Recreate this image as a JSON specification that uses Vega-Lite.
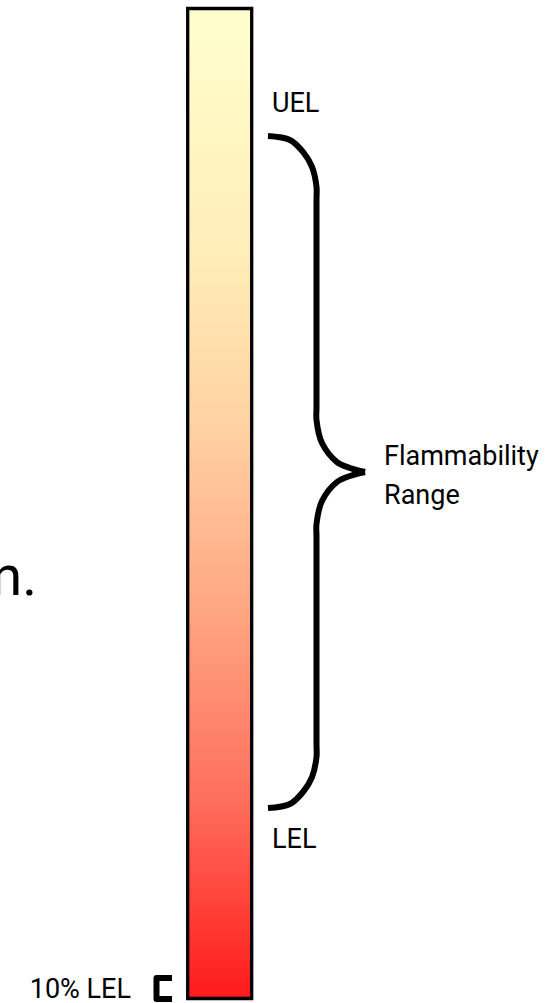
{
  "$schema": "https://vega.github.io/schema/vega-lite/v6.json",
  "width": 553,
  "height": 990,
  "autosize": {"type": "none"},
  "padding": {"left": 0, "right": 0, "top": 8.5, "bottom": 4.5},
  "background": "white",
  "config": {"view": {"stroke": null}, "font": "Roboto"},
  "datasets": {
    "bar": [{"x0": 187.7, "x1": 251.7, "y0": 0, "y1": 100}],
    "brace": [
      {"part": "upper", "i": 0, "x": 268, "y": 87.12},
      {"part": "upper", "i": 1, "x": 290, "y": 86.72},
      {"part": "upper", "i": 2, "x": 303, "y": 85.51},
      {"part": "upper", "i": 3, "x": 312, "y": 84.0},
      {"part": "upper", "i": 4, "x": 316.5, "y": 81.97},
      {"part": "upper", "i": 5, "x": 316.5, "y": 80.66},
      {"part": "upper", "i": 6, "x": 316.5, "y": 59.75},
      {"part": "upper", "i": 7, "x": 316.5, "y": 58.43},
      {"part": "upper", "i": 8, "x": 322, "y": 56.11},
      {"part": "upper", "i": 9, "x": 337, "y": 54.19},
      {"part": "upper", "i": 10, "x": 350, "y": 53.59},
      {"part": "upper", "i": 11, "x": 365, "y": 53.18},
      {"part": "lower", "i": 0, "x": 365, "y": 53.18},
      {"part": "lower", "i": 1, "x": 350, "y": 52.78},
      {"part": "lower", "i": 2, "x": 337, "y": 52.17},
      {"part": "lower", "i": 3, "x": 322, "y": 50.25},
      {"part": "lower", "i": 4, "x": 316.5, "y": 47.93},
      {"part": "lower", "i": 5, "x": 316.5, "y": 46.62},
      {"part": "lower", "i": 6, "x": 316.5, "y": 25.71},
      {"part": "lower", "i": 7, "x": 316.5, "y": 24.39},
      {"part": "lower", "i": 8, "x": 312, "y": 22.37},
      {"part": "lower", "i": 9, "x": 303, "y": 20.86},
      {"part": "lower", "i": 10, "x": 290, "y": 19.65},
      {"part": "lower", "i": 11, "x": 268, "y": 19.24}
    ],
    "bracket": [
      {"i": 0, "x": 172, "y": 2.07},
      {"i": 1, "x": 156.5, "y": 2.07},
      {"i": 2, "x": 156.5, "y": -0.05},
      {"i": 3, "x": 172, "y": -0.05}
    ],
    "labels": [
      {"text": "UEL", "x": 272, "y": 89.55},
      {"text": "LEL", "x": 272, "y": 15.2},
      {"text": "Flammability", "x": 384, "y": 53.89},
      {"text": "Range", "x": 384, "y": 49.95}
    ],
    "leftLabels": [
      {"text": "10% LEL", "x": 131, "y": 0.05}
    ],
    "cutText": [
      {"text": "rn.", "x": 37, "y": 40.76}
    ]
  },
  "encoding": {
    "x": {"type": "quantitative", "scale": {"domain": [0, 553], "nice": false, "zero": false}, "axis": null},
    "y": {"type": "quantitative", "scale": {"domain": [0, 100], "nice": false, "zero": false}, "axis": null}
  },
  "layer": [
    {
      "data": {"name": "bar"},
      "mark": {
        "type": "rect",
        "fill": {
          "gradient": "linear",
          "x1": 0, "y1": 0, "x2": 0, "y2": 1,
          "stops": [
            {"offset": 0, "color": "#ffffcc"},
            {"offset": 0.25, "color": "#ffedb8"},
            {"offset": 0.42, "color": "#ffd2a2"},
            {"offset": 0.6, "color": "#ffa883"},
            {"offset": 0.8, "color": "#ff6e5c"},
            {"offset": 1, "color": "#ff1a1a"}
          ]
        },
        "stroke": "black",
        "strokeWidth": 3.3
      },
      "encoding": {
        "x": {"field": "x0", "type": "quantitative"},
        "x2": {"field": "x1"},
        "y": {"field": "y0", "type": "quantitative"},
        "y2": {"field": "y1"}
      }
    },
    {
      "data": {"name": "brace"},
      "mark": {"type": "line", "interpolate": "catmull-rom", "color": "black", "strokeWidth": 6, "strokeCap": "butt"},
      "encoding": {
        "x": {"field": "x", "type": "quantitative"},
        "y": {"field": "y", "type": "quantitative"},
        "detail": {"field": "part"},
        "order": {"field": "i", "type": "quantitative"}
      }
    },
    {
      "data": {"name": "bracket"},
      "mark": {"type": "line", "color": "black", "strokeWidth": 6, "strokeCap": "butt", "strokeJoin": "round"},
      "encoding": {
        "x": {"field": "x", "type": "quantitative"},
        "y": {"field": "y", "type": "quantitative"},
        "order": {"field": "i", "type": "quantitative"}
      }
    },
    {
      "data": {"name": "labels"},
      "mark": {"type": "text", "align": "left", "baseline": "alphabetic", "fontSize": 27, "color": "black"},
      "encoding": {
        "x": {"field": "x", "type": "quantitative"},
        "y": {"field": "y", "type": "quantitative"},
        "text": {"field": "text"}
      }
    },
    {
      "data": {"name": "leftLabels"},
      "mark": {"type": "text", "align": "right", "baseline": "alphabetic", "fontSize": 27, "color": "black"},
      "encoding": {
        "x": {"field": "x", "type": "quantitative"},
        "y": {"field": "y", "type": "quantitative"},
        "text": {"field": "text"}
      }
    },
    {
      "data": {"name": "cutText"},
      "mark": {"type": "text", "align": "right", "baseline": "alphabetic", "fontSize": 56, "color": "black"},
      "encoding": {
        "x": {"field": "x", "type": "quantitative"},
        "y": {"field": "y", "type": "quantitative"},
        "text": {"field": "text"}
      }
    }
  ]
}
